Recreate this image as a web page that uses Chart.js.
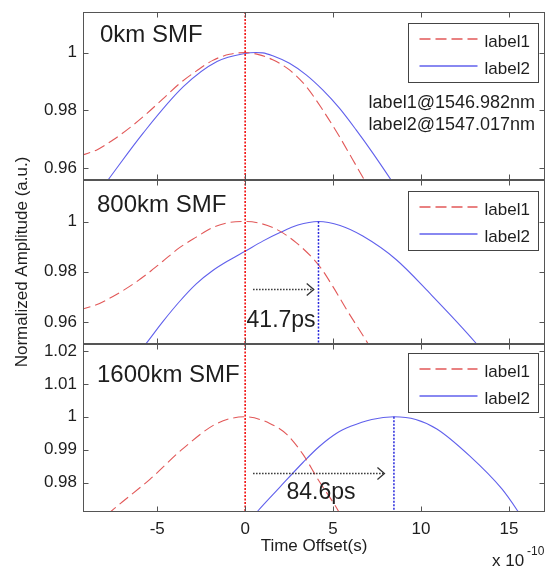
<!DOCTYPE html>
<html><head><meta charset="utf-8">
<script src="https://cdn.jsdelivr.net/npm/chart.js@4.4.1/dist/chart.umd.min.js"></script>
<style>html,body{margin:0;padding:0;background:#fff}canvas{display:block}</style>
</head><body>
<div style="position:relative;width:547px;height:567px"><canvas id="c" width="547" height="567"></canvas></div>
<script>
// ---- data (time in units of 1e-10 s, normalized amplitude) ----
const xTickValues = [-5, 0, 5, 10, 15];
const yTickValues = [[0.96, 0.98, 1], [0.96, 0.98, 1], [0.98, 0.99, 1, 1.01, 1.02]];
const panelTitles = ['0km SMF', '800km SMF', '1600km SMF'];
const seriesNames = ['label1', 'label2'];
const infoLines = ['label1@1546.982nm', 'label2@1547.017nm'];
const delayLabels = ['', '41.7ps', '84.6ps'];
const delayValues = [0, 4.17, 8.46];

const p1Label1T = [-10, -9.4, -8.46, -7.52, -6.57, -5.62, -4.68, -3.73, -2.78, -1.84, -0.89, 0, 0.82, 1.57, 2.52, 3.47, 4.41, 5.36, 6.12, 6.78, 7.4];
const p1Label1A = [0.962, 0.9642, 0.9663, 0.9698, 0.9740, 0.9788, 0.9840, 0.9893, 0.9936, 0.9973, 0.9994, 1.0, 0.9992, 0.9975, 0.994, 0.9883, 0.9802, 0.971, 0.963, 0.956, 0.9495];
const p1Label2T = [-8.6, -7.8, -5.8, -3.5, -1.6, 0, 0.6, 1.0, 1.57, 2.52, 3.47, 4.41, 5.36, 6.31, 7.26, 8.3, 9.0];
const p1Label2A = [0.9495, 0.956, 0.9722, 0.9883, 0.9969, 0.9997, 1.0, 0.9999, 0.9989, 0.9963, 0.9923, 0.9871, 0.9808, 0.9733, 0.9653, 0.956, 0.9495];

const p2Label1T = [-10, -9.4, -8.46, -7.52, -6.57, -5.62, -4.68, -3.73, -2.78, -1.84, -0.89, 0, 1.57, 2.9, 4.23, 5.0, 5.74, 6.97, 7.6];
const p2Label1A = [0.9635, 0.9649, 0.9669, 0.9702, 0.9742, 0.9789, 0.9842, 0.9896, 0.9938, 0.9976, 0.9996, 1.0, 0.9976, 0.9916, 0.9822, 0.974, 0.9653, 0.9516, 0.944];
const p2Label2T = [-6.6, -5.62, -4.68, -3.73, -2.78, -1.84, -0.89, 0, 1.0, 1.95, 3.0, 4.17, 5.4, 6.69, 8.58, 10.48, 13.13, 14.0];
const p2Label2A = [0.943, 0.9516, 0.9602, 0.9682, 0.9752, 0.9805, 0.9847, 0.9882, 0.9922, 0.9955, 0.9986, 1.0, 0.9984, 0.9942, 0.9849, 0.9716, 0.9516, 0.944];

const p3Label1T = [-8.5, -7.6, -5.4, -3.5, -1.6, 0, 1.4, 2.4, 3.3, 4.2, 5.3, 6.0];
const p3Label1A = [0.967, 0.9714, 0.9811, 0.9905, 0.998, 1.0, 0.998, 0.9945, 0.9885, 0.9805, 0.9714, 0.964];
const p3Label2T = [-0.2, 0.72, 1.95, 3.3, 4.2, 5.2, 6.0, 7.2, 8.46, 9.7, 10.9, 12.75, 14.6, 15.5, 16.5];
const p3Label2A = [0.9655, 0.9714, 0.9785, 0.9862, 0.9909, 0.9950, 0.9971, 0.9992, 1.0, 0.9992, 0.9963, 0.9882, 0.9781, 0.9714, 0.963];

const yRanges = [[0.956, 1.014], [0.9513, 1.0165], [0.9711, 1.0221]];
const xRange = [-9.22, 17.05];

// ---- style ----
const FONT = '"Liberation Sans", Arial, Helvetica, sans-serif';
const RED = 'rgb(226,88,88)';
const BLUE = 'rgb(96,96,236)';
const TXT = '#1e1e1e';
const BORDER = '#555';

function pts(t, a) { return t.map((v, i) => ({x: v, y: a[i]})); }
function ds(label, t, a, axis, color, dash) {
  return {label, data: pts(t, a), xAxisID: 'x', yAxisID: axis, borderColor: color, borderWidth: 1.1,
    borderDash: dash, pointRadius: 0, fill: false, cubicInterpolationMode: 'monotone'};
}
const datasets = [
  ds(seriesNames[0], p1Label1T, p1Label1A, 'y1', RED, [11, 5]),
  ds(seriesNames[1], p1Label2T, p1Label2A, 'y1', BLUE, []),
  ds(seriesNames[0], p2Label1T, p2Label1A, 'y2', RED, [11, 5]),
  ds(seriesNames[1], p2Label2T, p2Label2A, 'y2', BLUE, []),
  ds(seriesNames[0], p3Label1T, p3Label1A, 'y3', RED, [11, 5]),
  ds(seriesNames[1], p3Label2T, p3Label2A, 'y3', BLUE, []),
];

function yScale(i, weight, sw) {
  const r = yRanges[i];
  return {
    type: 'linear', position: 'left', stack: 'panels', stackWeight: sw, weight: weight,
    min: r[0], max: r[1],
    grid: {display: false, drawTicks: false}, border: {display: false},
    afterBuildTicks: s => { s.ticks = yTickValues[i].map(v => ({value: v})); },
    ticks: {autoSkip: false, padding: 6, color: TXT, font: {family: FONT, size: 17},
      callback: v => String(Number(v.toFixed(3)))},
    afterFit: s => { s.width = 83; s.paddingTop = 0; s.paddingBottom = 0; }
  };
}

const decor = {
  id: 'decor',
  afterDatasetsDraw(chart) {
    const c = chart.ctx, ca = chart.chartArea, xs = chart.scales.x;
    const ys = [chart.scales.y1, chart.scales.y2, chart.scales.y3];
    const L = Math.round(ca.left) + 0.5, R = Math.round(ca.right) - 0.5;
    c.save();
    // red dotted reference line at t = 0
    const x0 = xs.getPixelForValue(0);
    c.strokeStyle = 'rgb(240,0,0)'; c.lineWidth = 1.5; c.setLineDash([2, 1.5]);
    c.beginPath(); c.moveTo(x0, ca.top); c.lineTo(x0, ca.bottom); c.stroke();
    // delay markers
    [1, 2].forEach(i => {
      const y = ys[i];
      const xd = xs.getPixelForValue(delayValues[i]);
      c.strokeStyle = 'rgb(40,40,220)'; c.lineWidth = 1.5; c.setLineDash([2, 1.5]);
      c.beginPath(); c.moveTo(xd, y.getPixelForValue(1)); c.lineTo(xd, y.bottom); c.stroke();
    });
    // arrows
    const arrows = [null, {x1: 0.45, x2: 3.9, y: 0.9732}, {x1: 0.45, x2: 7.92, y: 0.983}];
    [1, 2].forEach(i => {
      const a = arrows[i], y = ys[i];
      const xa = xs.getPixelForValue(a.x1), xb = xs.getPixelForValue(a.x2), ya = Math.round(y.getPixelForValue(a.y)) + 0.5;
      c.strokeStyle = '#333'; c.lineWidth = 1.3; c.setLineDash([1.5, 1.5]);
      c.beginPath(); c.moveTo(xa, ya); c.lineTo(xb, ya); c.stroke();
      c.setLineDash([]); c.lineWidth = 1.3;
      c.beginPath(); c.moveTo(xb - 7, ya - 6); c.lineTo(xb, ya); c.lineTo(xb - 7, ya + 6); c.stroke();
    });
    // delay text
    c.fillStyle = TXT; c.font = '23px ' + FONT; c.textAlign = 'left'; c.textBaseline = 'alphabetic';
    const dText = [null, {x: 0.08, y: 0.9581}, {x: 2.35, y: 0.9751}];
    [1, 2].forEach(i => {
      c.fillText(delayLabels[i], xs.getPixelForValue(dText[i].x), ys[i].getPixelForValue(dText[i].y));
    });
    // panel boxes, ticks, titles, legends
    const titleOff = [30, 32, 38];
    const legTop = [11, 11, 9];
    ys.forEach((y, i) => {
      const T = Math.round(y.top) + 0.5, B = Math.round(y.bottom) - 0.5;
      c.setLineDash([]); c.strokeStyle = BORDER; c.lineWidth = 1;
      c.strokeRect(L, T, R - L, B - T);
      c.beginPath();
      xTickValues.forEach(v => {
        const px = Math.round(xs.getPixelForValue(v)) + 0.5;
        c.moveTo(px, T); c.lineTo(px, T + 5);
        c.moveTo(px, B); c.lineTo(px, B - 5);
      });
      y.ticks.forEach(t => {
        const py = Math.round(y.getPixelForValue(t.value)) + 0.5;
        c.moveTo(L, py); c.lineTo(L + 5, py);
        c.moveTo(R, py); c.lineTo(R - 5, py);
      });
      c.stroke();
      // title
      c.fillStyle = TXT; c.font = '24px ' + FONT; c.textAlign = 'left';
      c.fillText(panelTitles[i], ca.left + (i === 0 ? 17 : 14), y.top + titleOff[i]);
      // legend
      const bx = Math.round(ca.right - 137) + 0.5, by = Math.round(y.top + legTop[i]) + 0.5;
      c.fillStyle = '#fff'; c.fillRect(bx, by, 130, 59);
      c.strokeStyle = '#444'; c.lineWidth = 1; c.strokeRect(bx, by, 130, 59);
      const rows = [[RED, [11, 5]], [BLUE, []]];
      rows.forEach((r, k) => {
        const ly = by + 15.5 + k * 27;
        c.strokeStyle = r[0]; c.setLineDash(r[1]); c.lineWidth = 1.4;
        c.beginPath(); c.moveTo(bx + 11, ly); c.lineTo(bx + 69, ly); c.stroke();
        c.setLineDash([]);
        c.fillStyle = TXT; c.font = '17px ' + FONT;
        c.fillText(seriesNames[k], bx + 76, ly + 7.5);
      });
    });
    // info text (panel 1)
    c.fillStyle = TXT; c.font = '18px ' + FONT; c.textAlign = 'right';
    c.fillText(infoLines[0], ca.right - 10, ys[0].top + 96);
    c.fillText(infoLines[1], ca.right - 10, ys[0].top + 118);
    // axis titles
    c.textAlign = 'center'; c.font = '17px ' + FONT;
    c.fillText('Time Offset(s)', (ca.left + ca.right) / 2, 551);
    c.save(); c.translate(22, (ca.top + ca.bottom) / 2); c.rotate(-Math.PI / 2);
    c.textBaseline = 'middle'; c.fillText('Normalized Amplitude (a.u.)', 0, 0); c.restore();
    // exponent
    c.textAlign = 'left'; c.textBaseline = 'alphabetic';
    c.font = '17px ' + FONT; c.fillText('x 10', 492, 566);
    c.font = '12px ' + FONT; c.fillText('-10', 527, 555);
    c.restore();
  }
};

new Chart(document.getElementById('c'), {
  type: 'line',
  data: {datasets},
  options: {
    responsive: false, animation: false,
    layout: {padding: {top: 12, right: 2, left: 0, bottom: 0}},
    plugins: {legend: {display: false}, tooltip: {enabled: false}, title: {display: false}},
    scales: {
      x: {type: 'linear', position: 'bottom', min: xRange[0], max: xRange[1],
        grid: {display: false, drawTicks: false}, border: {display: false},
        afterBuildTicks: s => { s.ticks = xTickValues.map(v => ({value: v})); },
        ticks: {autoSkip: false, padding: 7, color: TXT, font: {family: FONT, size: 17},
          callback: v => String(v), maxRotation: 0},
        afterFit: s => { s.height = 55; s.paddingLeft = 0; s.paddingRight = 0; }},
      y1: yScale(0, 3, 168),
      y2: yScale(1, 2, 164),
      y3: yScale(2, 1, 168)
    }
  },
  plugins: [decor]
});
</script>
</body></html>
